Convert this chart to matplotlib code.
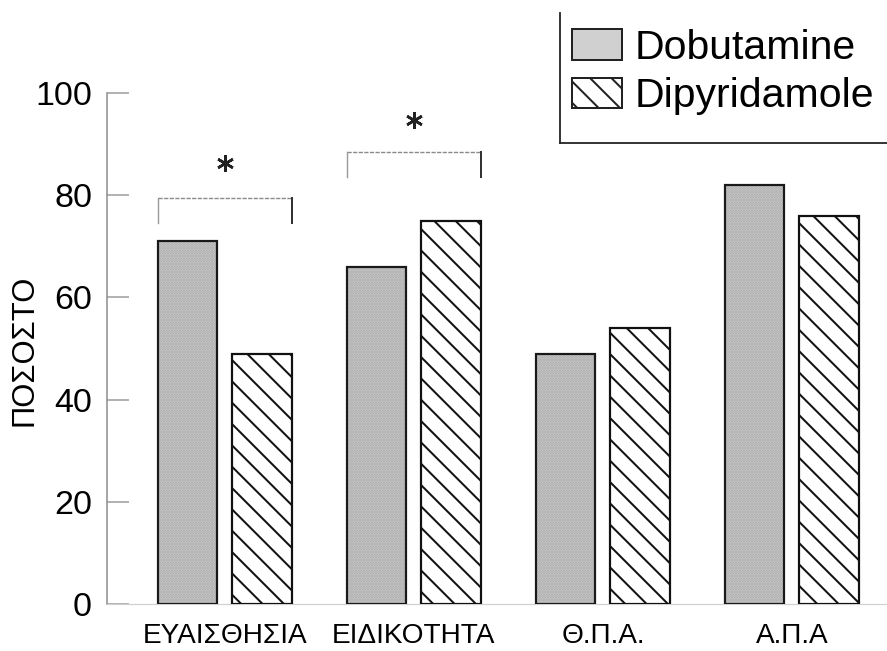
import matplotlib
matplotlib.use("Agg")
import matplotlib.pyplot as plt
from matplotlib.patches import Patch
from matplotlib.lines import Line2D
from matplotlib import font_manager
import numpy as np

# ---------------- data ----------------
categories = ["ΕΥΑΙΣΘΗΣΙΑ", "ΕΙΔΙΚΟΤΗΤΑ", "Θ.Π.Α.", "Α.Π.Α"]
dobutamine = [71, 66, 49, 82]
dipyridamole = [49, 75, 54, 76]
series_names = ["Dobutamine", "Dipyridamole"]
y_ticks = [0, 20, 40, 60, 80, 100]
# significance brackets
sig_groups = [0, 1]
sig_levels = [79.5, 88.5]
sig_leg_bottom = [74.5, 83.5]
sig_star = [86.3, 94.7]

# ---------------- layout helpers ----------------
W, H = 887, 651
DPI = 64
def pt(px):
    return px * 72.0 / DPI

_names = {f.name for f in font_manager.fontManager.ttflist}
HAS_NARROW = "Liberation Sans Narrow" in _names
FONT = ["Liberation Sans Narrow", "Liberation Sans", "DejaVu Sans"] if HAS_NARROW \
    else ["Liberation Sans", "DejaVu Sans"]
SANS = ["Liberation Sans", "DejaVu Sans"]
# sizes in px (narrow font if available, otherwise width-matched regular font)
F_TICK = 39 if HAS_NARROW else 34
F_CAT = 33 if HAS_NARROW else 28
F_LEG = 46 if HAS_NARROW else 41

plt.rcParams["hatch.linewidth"] = pt(2.0)

fig = plt.figure(figsize=(W / DPI, H / DPI), dpi=DPI)
fig.patch.set_facecolor("white")

left_px, right_px = 107, 887
bottom_px, top_px = 604, 93
ax = fig.add_axes([left_px / W, 1 - bottom_px / H,
                   (right_px - left_px) / W, (bottom_px - top_px) / H])

x = np.arange(len(categories))
bw = 0.315
off = 0.197

# Dobutamine: stippled grey bars
ax.bar(x - off, dobutamine, width=bw, color="#d2d2d2", hatch="....",
       edgecolor="#a4a4a4", linewidth=0, zorder=2)
ax.bar(x - off, dobutamine, width=bw, fill=False, edgecolor="#1a1a1a",
       linewidth=pt(2.2), zorder=3)
# Dipyridamole: white hatched bars
ax.bar(x + off, dipyridamole, width=bw, color="white", hatch="\\",
       edgecolor="#111111", linewidth=pt(2.2), zorder=3)

# significance brackets
for g, lvl, lb, st in zip(sig_groups, sig_levels, sig_leg_bottom, sig_star):
    x0 = x[g] - off - bw / 2
    x1 = x[g] + off + bw / 2
    ax.plot([x0, x1], [lvl, lvl], color="#8a8a8a", lw=pt(1.4), ls=(0, (3, 1)), zorder=4)
    ax.plot([x0, x0], [lb, lvl], color="#9a9a9a", lw=pt(1.4), zorder=4)
    ax.plot([x1, x1], [lb, lvl], color="#333333", lw=pt(2.0), zorder=4)
    ax.plot([x[g]], [st], marker=(6, 2, 0), ms=pt(17), mew=pt(2.6),
            color="#222222", zorder=5)

ax.set_xlim(-0.624, 3.503)
ax.set_ylim(0, 100)
ax.set_yticks(y_ticks)
ax.set_yticklabels([str(v) for v in y_ticks], fontsize=pt(F_TICK), family=FONT)
ax.tick_params(axis="y", direction="in", length=pt(22), width=pt(1.5),
               color="#9a9a9a", pad=pt(15))
ax.set_xticks(x)
ax.set_xticklabels(categories, fontsize=pt(F_CAT), family=FONT)
ax.tick_params(axis="x", length=0, pad=pt(19))

for s in ["top", "right"]:
    ax.spines[s].set_visible(False)
ax.spines["left"].set_color("#8a8a8a")
ax.spines["left"].set_linewidth(pt(1.5))
ax.spines["bottom"].set_color("#d0d0d0")
ax.spines["bottom"].set_linewidth(pt(1.2))

fig.text(25 / W, 1 - 350 / H, "ΠΟΣΟΣΤΟ", rotation=90, ha="center", va="center",
         fontsize=pt(31), family=SANS)

# legend
handles = [Patch(facecolor="#d0d0d0", edgecolor="#222222", linewidth=pt(2.0)),
           Patch(facecolor="white", edgecolor="#222222", hatch="\\", linewidth=pt(2.0))]
leg = fig.legend(handles, series_names, loc="upper left",
                 bbox_to_anchor=(572 / W, 1 - 29 / H), bbox_transform=fig.transFigure,
                 frameon=False, prop={"family": FONT, "size": pt(F_LEG)},
                 handlelength=50 / F_LEG, handleheight=32 / F_LEG, handletextpad=0.3,
                 labelspacing=0.25, borderpad=0, borderaxespad=0)
# legend box border (left and bottom edges visible in the cropped scan)
fig.add_artist(Line2D([560 / W, 560 / W], [1 - 13 / H, 1 - 143 / H],
                      transform=fig.transFigure, color="#222222", lw=pt(1.8)))
fig.add_artist(Line2D([560 / W, 1.0], [1 - 143 / H, 1 - 143 / H],
                      transform=fig.transFigure, color="#222222", lw=pt(1.8)))

fig.savefig("out.png", dpi=DPI, facecolor="white")
